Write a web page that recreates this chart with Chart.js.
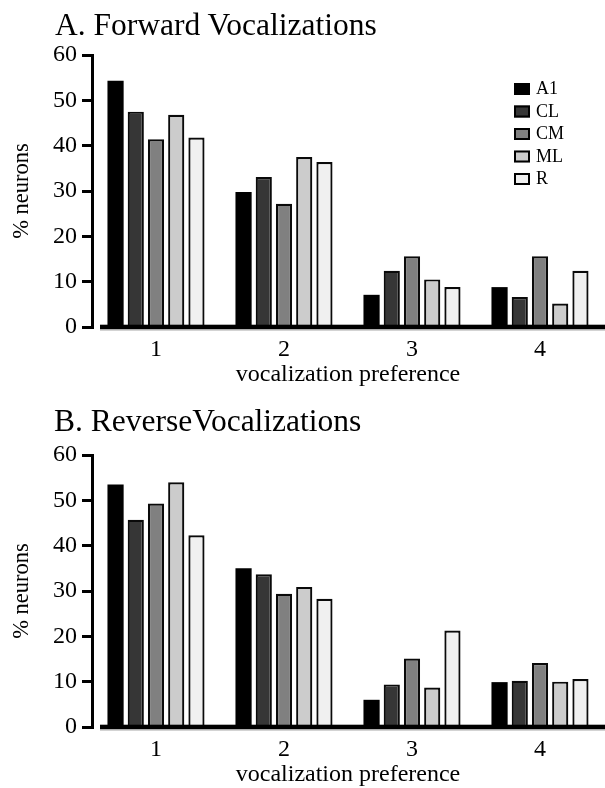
<!DOCTYPE html>
<html>
<head>
<meta charset="utf-8">
<title>Vocalization preference by cortical field</title>
<script src="https://cdn.jsdelivr.net/npm/chart.js@4.4.1/dist/chart.umd.min.js"></script>
<style>
  html, body { margin: 0; padding: 0; background: #fff; width: 605px; height: 788px; overflow: hidden; }
  .panel { position: absolute; left: 0; width: 605px; height: 396px; }
  .panel canvas { display: block; }
  .heading {
    position: absolute; margin: 0; color: #000; white-space: pre;
    font-family: "Liberation Serif", "Times New Roman", serif;
    font-size: 31.5px; line-height: 31px; font-weight: normal;
  }
</style>
</head>
<body>
<div class="panel" style="top:0"><canvas id="forward" width="605" height="396"></canvas></div>
<div class="panel" style="top:400px"><canvas id="reverse" width="605" height="396"></canvas></div>
<div class="heading" style="left:55px;top:9px">A. Forward Vocalizations</div>
<div class="heading" style="left:54px;top:405px">B. ReverseVocalizations</div>

<script>
// Vocalization preference rank (1 = most preferred)
const categories = ['1', '2', '3', '4'];

// Cortical fields, their bar fills and outline widths (A1 is solid black)
const fieldNames = ['A1', 'CL', 'CM', 'ML', 'R'];
const fieldFills = ['#000000', '#363636', '#808080', '#cccccc', '#f0f0f0'];
const fieldOutlines = [0, 2.2, 2.2, 2.2, 2.2];

// A. Forward vocalizations: % neurons per field
const forwardA1 = [54.3, 29.8, 7.1, 8.8];
const forwardCL = [47.5, 33.1, 12.4, 6.6];
const forwardCM = [41.4, 27.2, 15.6, 15.6];
const forwardML = [46.8, 37.5, 10.5, 5.2];
const forwardR  = [41.8, 36.4, 8.8, 12.4];

// B. Reverse vocalizations: % neurons per field
const reverseA1 = [53.5, 35.0, 6.0, 9.9];
const reverseCL = [45.7, 33.7, 9.4, 10.2];
const reverseCM = [49.3, 29.4, 15.1, 14.1];
const reverseML = [54.0, 30.9, 8.7, 10.0];
const reverseR  = [42.3, 28.3, 21.3, 10.6];

// Y axis range and step
const yMin = 0, yMax = 60, yStep = 10;

const SERIF = '"Liberation Serif", "Times New Roman", serif';

// Heavy baseline along y = 0, starting slightly right of the y axis
const baselinePlugin = {
  id: 'baseline',
  afterDatasetsDraw(chart) {
    const { ctx, chartArea, scales } = chart;
    const y0 = scales.y.getPixelForValue(0);
    const x0 = chartArea.left + 8;
    const w = chartArea.right - chartArea.left - 7;
    ctx.save();
    ctx.fillStyle = '#000';
    ctx.fillRect(x0, y0 - 2.3, w, 4.6);
    ctx.fillStyle = '#a8a8a8';
    ctx.fillRect(x0, y0 + 2.3, w, 1.2);
    ctx.restore();
  }
};

// Stacked key in the upper right of the plot
const keyPlugin = {
  id: 'fieldKey',
  afterDraw(chart) {
    const ctx = chart.ctx;
    ctx.save();
    ctx.font = '18px ' + SERIF;
    ctx.textAlign = 'left';
    ctx.textBaseline = 'middle';
    chart.data.datasets.forEach((ds, i) => {
      const top = 83 + i * 22.5;
      ctx.fillStyle = ds.backgroundColor;
      ctx.fillRect(514, top, 16, 12);
      ctx.lineWidth = 2;
      ctx.strokeStyle = '#000';
      ctx.strokeRect(515, top + 1, 14, 10);
      ctx.fillStyle = '#000';
      ctx.fillText(ds.label, 536, top + 6.5);
    });
    ctx.restore();
  }
};

function makeChart(canvasId, seriesValues, withKey) {
  const datasets = fieldNames.map((name, i) => ({
    label: name,
    data: seriesValues[i],
    backgroundColor: fieldFills[i],
    borderColor: '#0a0a0a',
    borderWidth: fieldOutlines[i],
    categoryPercentage: 0.79,
    barPercentage: 0.8
  }));

  const plugins = [baselinePlugin];
  if (withKey) plugins.push(keyPlugin);

  return new Chart(document.getElementById(canvasId), {
    type: 'bar',
    data: { labels: categories, datasets },
    plugins,
    options: {
      responsive: false,
      animation: false,
      devicePixelRatio: 1,
      layout: { padding: { top: 55, left: 0, right: 1, bottom: 0 } },
      plugins: {
        legend: { display: false },
        tooltip: { enabled: false },
        title: { display: false }
      },
      scales: {
        x: {
          type: 'category',
          offset: true,
          grid: { display: false, drawTicks: false },
          border: { display: false },
          ticks: { color: '#000', font: { family: SERIF, size: 24 }, padding: 8, maxRotation: 0 },
          title: {
            display: true,
            text: 'vocalization preference',
            color: '#000',
            font: { family: SERIF, size: 24, lineHeight: 1 },
            padding: { top: 0, bottom: 9 }
          },
          afterFit(scale) { scale.height = 69; }
        },
        y: {
          min: yMin,
          max: yMax,
          ticks: { stepSize: yStep, color: '#000', font: { family: SERIF, size: 24 }, padding: 5 },
          grid: { display: true, drawOnChartArea: false, drawTicks: true, tickLength: 10, lineWidth: 3, color: '#000' },
          border: { display: true, width: 3, color: '#000' },
          title: {
            display: true,
            text: '% neurons',
            color: '#000',
            font: { family: SERIF, size: 22.5, lineHeight: 1 },
            padding: { top: 11, bottom: 0 }
          },
          afterFit(scale) { scale.width = 92; }
        }
      }
    }
  });
}

makeChart('forward', [forwardA1, forwardCL, forwardCM, forwardML, forwardR], true);
makeChart('reverse', [reverseA1, reverseCL, reverseCM, reverseML, reverseR], false);
</script>
</body>
</html>
